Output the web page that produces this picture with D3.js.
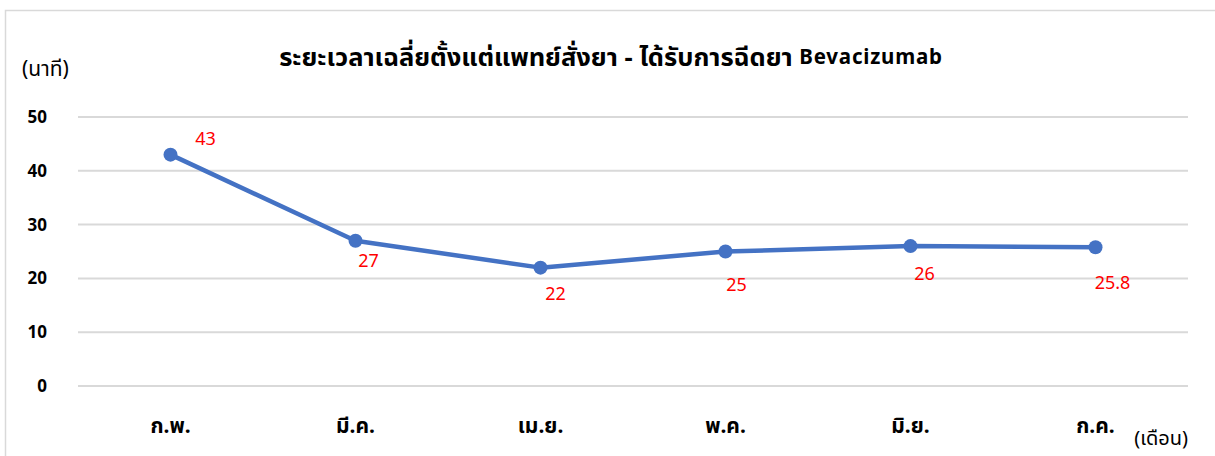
<!DOCTYPE html>
<html>
<head>
<meta charset="utf-8">
<title>ระยะเวลาเฉลี่ย Bevacizumab</title>
<script src="https://d3js.org/d3.v7.min.js"></script>
<style>
  body { margin: 0; background: #fff; }
  svg text { font-family: "Noto Sans", "Noto Sans Thai", "Open Sans", sans-serif; }
</style>
</head>
<body>
<div id="chart"></div>
<script>
// Data
var months = ["ก.พ.", "มี.ค.", "เม.ย.", "พ.ค.", "มิ.ย.", "ก.ค."];
var minutes = [43, 27, 22, 25, 26, 25.8];
var yTicks = [0, 10, 20, 30, 40, 50];

// label nudges (dx, dy) relative to each point, like the hand-placed labels
var labelDx = [35, 13, 15, 11, 14, 17];
var labelDy = [-17, 19, 25, 32, 27, 35];

var W = 1215, H = 456;
var margin = {top: 117, right: 27, bottom: 70, left: 78};
var plotW = W - margin.left - margin.right;
var plotH = H - margin.top - margin.bottom;

var svg = d3.select("#chart").append("svg")
  .attr("width", W)
  .attr("height", H);

// outer frame
svg.append("rect")
  .attr("x", 5.5).attr("y", 10.5)
  .attr("width", W + 10).attr("height", H + 10)
  .attr("fill", "none")
  .attr("stroke", "#d9d9d9")
  .attr("stroke-width", 1.5);

var g = svg.append("g")
  .attr("transform", "translate(" + margin.left + "," + margin.top + ")");

var x = d3.scaleBand().domain(months).range([0, plotW]);
var y = d3.scaleLinear().domain([0, 50]).range([plotH, 0]);

// gridlines
g.append("g").selectAll("line")
  .data(yTicks)
  .join("line")
  .attr("x1", 0).attr("x2", plotW)
  .attr("y1", function(d) { return y(d); })
  .attr("y2", function(d) { return y(d); })
  .attr("stroke", "#d9d9d9")
  .attr("stroke-width", 2);

// y axis labels
var yAxis = g.append("g")
  .call(d3.axisLeft(y).tickValues(yTicks).tickSize(0).tickPadding(31));
yAxis.select(".domain").remove();
yAxis.selectAll("text")
  .attr("font-size", 17)
  .attr("font-weight", "bold")
  .attr("fill", "#000");

// x axis labels
var xAxis = g.append("g")
  .attr("transform", "translate(0," + plotH + ")")
  .call(d3.axisBottom(x).tickSize(0).tickPadding(0));
xAxis.select(".domain").remove();
xAxis.selectAll("text")
  .attr("y", 39)
  .attr("dy", null)
  .attr("dominant-baseline", "central")
  .attr("font-size", 21)
  .attr("font-weight", "bold")
  .attr("fill", "#000");

// line
var line = d3.line()
  .x(function(d, i) { return x(months[i]) + x.bandwidth() / 2; })
  .y(function(d) { return y(d); });

g.append("path")
  .datum(minutes)
  .attr("fill", "none")
  .attr("stroke", "#4472C4")
  .attr("stroke-width", 4.5)
  .attr("stroke-linejoin", "round")
  .attr("d", line);

g.selectAll(".dot")
  .data(minutes)
  .join("circle")
  .attr("class", "dot")
  .attr("cx", function(d, i) { return x(months[i]) + x.bandwidth() / 2; })
  .attr("cy", function(d) { return y(d); })
  .attr("r", 7)
  .attr("fill", "#4472C4");

// data labels
g.selectAll(".lbl")
  .data(minutes)
  .join("text")
  .attr("class", "lbl")
  .attr("x", function(d, i) { return x(months[i]) + x.bandwidth() / 2 + labelDx[i]; })
  .attr("y", function(d, i) { return y(d) + labelDy[i]; })
  .attr("text-anchor", "middle")
  .attr("dominant-baseline", "central")
  .attr("font-size", 18)
  .attr("fill", "#FF0000")
  .text(function(d) { return d; });

// title: thai part rendered larger since the fallback thai glyphs run small
var title = svg.append("text")
  .attr("x", 611).attr("y", 56)
  .attr("text-anchor", "middle")
  .attr("dominant-baseline", "central")
  .attr("font-weight", "bold")
  .attr("fill", "#000");
title.append("tspan")
  .attr("font-size", 25.5)
  .text("ระยะเวลาเฉลี่ยตั้งแต่แพทย์สั่งยา - ได้รับการฉีดยา ");
title.append("tspan")
  .attr("font-size", 20.5)
  .attr("letter-spacing", 0.8)
  .text("Bevacizumab");

// axis unit labels
svg.append("text")
  .attr("x", 22).attr("y", 68)
  .attr("dominant-baseline", "central")
  .attr("font-size", 21)
  .attr("fill", "#000")
  .text("(นาที)");

svg.append("text")
  .attr("x", 1188).attr("y", 437)
  .attr("text-anchor", "end")
  .attr("dominant-baseline", "central")
  .attr("font-size", 20)
  .attr("fill", "#000")
  .text("(เดือน)");
</script>
</body>
</html>
